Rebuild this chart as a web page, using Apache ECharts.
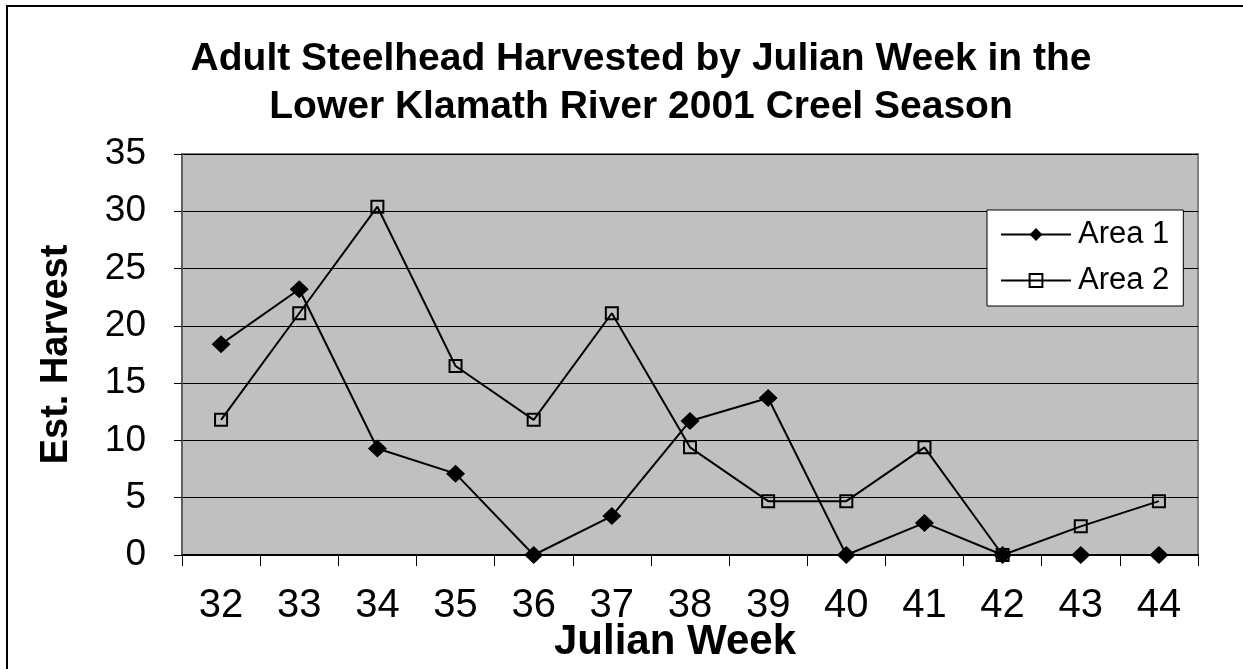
<!DOCTYPE html>
<html>
<head>
<meta charset="utf-8">
<script src="https://cdn.jsdelivr.net/npm/echarts@6/dist/echarts.min.js"></script>
<style>
  html, body { margin: 0; padding: 0; background: #ffffff; }
  #chart { width: 1243px; height: 669px; }
</style>
</head>
<body>
<div id="chart"></div>
<script>
// Julian weeks of the 2001 creel season
const weeks = ['32', '33', '34', '35', '36', '37', '38', '39', '40', '41', '42', '43', '44'];
// Estimated adult steelhead harvest per week
const area1 = [18.4, 23.2, 9.3, 7.1, 0, 3.4, 11.7, 13.7, 0, 2.8, 0, 0, 0];
const area2 = [11.8, 21.1, 30.4, 16.5, 11.8, 21.1, 9.4, 4.7, 4.7, 9.4, 0, 2.5, 4.7];
const seriesNames = ['Area 1', 'Area 2'];

const FONT = '"Liberation Sans", Arial, Helvetica, sans-serif';

const chart = echarts.init(document.getElementById('chart'), null, { renderer: 'canvas' });

chart.setOption({
  backgroundColor: '#ffffff',
  animation: false,
  title: {
    text: 'Adult Steelhead Harvested by Julian Week in the\nLower Klamath River 2001 Creel Season',
    left: 641,
    textAlign: 'center',
    top: 35,
    padding: 0,
    textStyle: {
      fontFamily: FONT,
      fontSize: 39,
      fontWeight: 'bold',
      color: '#000000',
      lineHeight: 48
    }
  },
  graphic: [{
    type: 'rect',
    shape: { x: 7, y: 6, width: 1300, height: 700 },
    style: { fill: 'none', stroke: '#000000', lineWidth: 2 },
    silent: true,
    z: 100
  }],
  legend: {
    orient: 'vertical',
    left: 987,
    top: 210,
    padding: [9, 14, 10, 13],
    itemGap: 15,
    itemWidth: 70,
    itemHeight: 16,
    backgroundColor: '#ffffff',
    borderColor: '#000000',
    borderWidth: 1,
    data: seriesNames,
    textStyle: {
      fontFamily: FONT,
      fontSize: 31,
      color: '#000000',
      padding: [0, 0, 0, 2]
    }
  },
  grid: {
    left: 182,
    right: 45,
    top: 154,
    bottom: 114,
    show: true,
    backgroundColor: '#c0c0c0',
    borderColor: '#808080',
    borderWidth: 2,
    containLabel: false,
    outerBoundsMode: 'none'
  },
  xAxis: {
    type: 'category',
    data: weeks,
    boundaryGap: true,
    name: 'Julian Week',
    nameLocation: 'middle',
    nameGap: 66,
    nameMoveOverlap: false,
    nameTextStyle: {
      fontFamily: FONT,
      fontSize: 42,
      fontWeight: 'bold',
      color: '#000000',
      padding: [0, 30, 0, 0]
    },
    axisLine: { show: true, lineStyle: { color: '#000000', width: 2 } },
    axisTick: { show: true, alignWithLabel: false, length: 11, lineStyle: { color: '#000000', width: 1 } },
    axisLabel: {
      fontFamily: FONT,
      fontSize: 40,
      color: '#000000',
      margin: 31,
      interval: 0
    },
    splitLine: { show: false }
  },
  yAxis: {
    type: 'value',
    min: 0,
    max: 35,
    interval: 5,
    name: 'Est. Harvest',
    nameLocation: 'middle',
    nameGap: 106,
    nameRotate: 90,
    nameMoveOverlap: false,
    nameTextStyle: {
      fontFamily: FONT,
      fontSize: 38,
      fontWeight: 'bold',
      color: '#000000'
    },
    axisLine: { show: true, lineStyle: { color: '#606060', width: 2 } },
    axisTick: { show: true, length: 8, lineStyle: { color: '#000000', width: 1 } },
    axisLabel: {
      fontFamily: FONT,
      fontSize: 37,
      color: '#000000',
      margin: 36
    },
    splitLine: { show: true, lineStyle: { color: '#000000', width: 1 } }
  },
  series: [
    {
      name: seriesNames[0],
      type: 'line',
      data: area1,
      symbol: 'diamond',
      symbolSize: [19, 18],
      showSymbol: true,
      lineStyle: { color: '#000000', width: 2 },
      itemStyle: { color: '#000000', borderColor: '#000000', borderWidth: 0 },
      emphasis: { disabled: true }
    },
    {
      name: seriesNames[1],
      type: 'line',
      data: area2,
      symbol: 'rect',
      symbolSize: 12,
      showSymbol: true,
      lineStyle: { color: '#000000', width: 2 },
      itemStyle: { color: 'rgba(0,0,0,0)', borderColor: '#000000', borderWidth: 2 },
      emphasis: { disabled: true }
    }
  ]
});
</script>
</body>
</html>
